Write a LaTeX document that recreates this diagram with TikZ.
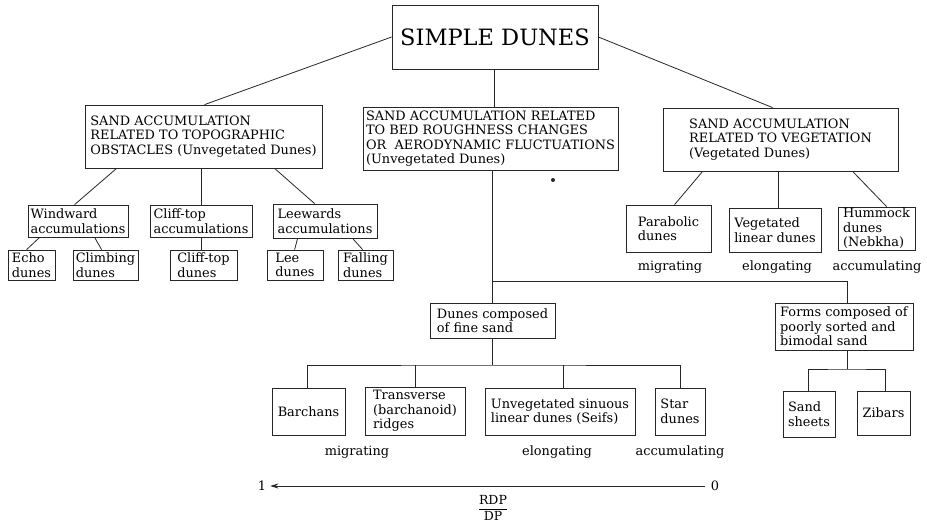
\documentclass[tikz,border=0pt]{standalone}
\usepackage{fontspec}
\setmainfont{DejaVu Serif}
\usetikzlibrary{calc,arrows.meta}
\begin{document}
\begin{tikzpicture}[x=1pt,y=-1pt,
  box/.style={draw=black!85, line width=0.8pt, align=left, inner xsep=2pt, inner ysep=0pt, font=\fontsize{12.9}{14.5}\selectfont},
  lbl/.style={inner sep=0pt, font=\fontsize{12.9}{14.5}\selectfont},
  conn/.style={draw=black!85, line width=0.8pt}]
\useasboundingbox (0,0) rectangle (927,526);
% top
\node[box, align=center, minimum width=206, minimum height=64, font=\fontsize{22.5}{26}\selectfont] (top) at (495,37) {SIMPLE DUNES};
% level 1
\node[box, minimum width=237, minimum height=63] (topo) at (203.5,136.5) {SAND ACCUMULATION\\RELATED TO TOPOGRAPHIC\\OBSTACLES (Unvegetated Dunes)};
\node[box, minimum width=255, minimum height=63] (bed) at (490.5,138.5) {SAND ACCUMULATION RELATED\\TO BED ROUGHNESS CHANGES\\OR~ AERODYNAMIC FLUCTUATIONS\\(Unvegetated Dunes)};
\node[box, minimum width=235, minimum height=63] (veg) at (780.5,139.5) {SAND ACCUMULATION\\RELATED TO VEGETATION\\(Vegetated Dunes)};
% left subtree
\node[box, minimum width=100, minimum height=32] (wind) at (78,221) {Windward\\accumulations};
\node[box, minimum width=102, minimum height=32] (cliffacc) at (201,221) {Cliff-top\\accumulations};
\node[box, minimum width=104, minimum height=34] (leew) at (325,221) {Leewards\\accumulations};
\node[box, minimum width=47, minimum height=30] (echo) at (31.5,265) {Echo\\dunes};
\node[box, minimum width=65, minimum height=30] (climb) at (105.5,265) {Climbing\\dunes};
\node[box, minimum width=67, minimum height=30] (cliffd) at (203.5,265) {Cliff-top\\dunes};
\node[box, minimum width=56, minimum height=30] (lee) at (295,265) {Lee\\dunes};
\node[box, minimum width=55, minimum height=30] (fall) at (365.5,265) {Falling\\dunes};
% right subtree
\node[box, minimum width=85, minimum height=47] (parab) at (668.5,228.5) {Parabolic\\dunes};
\node[box, minimum width=92, minimum height=44] (veglin) at (775,230) {Vegetated\\linear dunes};
\node[box, minimum width=77, minimum height=43] (humm) at (876.5,228.5) {Hummock\\dunes\\(Nebkha)};
\node[lbl] (m1) at (670,267) {migrating};
\node[lbl] (e1) at (777,267) {elongating};
\node[lbl] (a1) at (877,267) {accumulating};
% middle subtree
\node[box, minimum width=125, minimum height=35] (fine) at (492.5,320.5) {Dunes composed\\of fine sand};
\node[box, minimum width=138, minimum height=47] (forms) at (844,326.5) {Forms composed of\\poorly sorted and\\bimodal sand};
\node[box, minimum width=73, minimum height=47] (barch) at (308.5,411.5) {Barchans};
\node[box, minimum width=100, minimum height=48] (trans) at (415,411) {Transverse\\(barchanoid)\\ridges};
\node[box, minimum width=150, minimum height=47] (unveg) at (560,411.5) {Unvegetated sinuous\\linear dunes (Seifs)};
\node[box, minimum width=50, minimum height=47] (star) at (680,411.5) {Star\\dunes};
\node[box, minimum width=52, minimum height=46] (sheets) at (809,414) {Sand\\sheets};
\node[box, minimum width=53, minimum height=44] (zibars) at (883.5,413) {Zibars};
\node[lbl] (m2) at (357,452) {migrating};
\node[lbl] (e2) at (557,452) {elongating};
\node[lbl] (a2) at (680,452) {accumulating};
% axis
\node[lbl] (one) at (262,486) {1};
\node[lbl] (zero) at (715,486) {0};
\node[inner sep=0pt, font=\fontsize{12.5}{14}\selectfont] (ratio) at (493,508) {$\displaystyle\frac{\hbox{RDP}}{\hbox{DP}}$};
\draw[conn, -{Stealth[length=8pt,width=5pt]}] ([xshift=-6pt]zero.west) -- ([xshift=4pt]one.east);
% dot
\fill[black!85] (553,180) circle (2);
% connectors
\coordinate (j) at (493,281);
\coordinate (bus1) at (493,365);
\coordinate (bus2) at (847,369);
\draw[conn] (top.west) -- ([xshift=120pt]topo.north west);
\draw[conn] (top.east) -- ([xshift=110pt]veg.north west);
\draw[conn] ([xshift=-1pt]top.south) -- ([xshift=-1pt]top.south |- bed.north);
\draw[conn] (bed.south -| fine.north) -- (fine.north);
\draw[conn] (j) -| ([xshift=3pt]forms.north);
\draw[conn] ([xshift=32pt]topo.south west) -- ([xshift=47pt]wind.north west);
\draw[conn] (cliffacc.north |- topo.south) -- (cliffacc.north);
\draw[conn] ([xshift=190pt]topo.south west) -- ([xshift=42pt]leew.north west);
\draw[conn] ([xshift=12pt]wind.south west) -- ([xshift=19pt]echo.north west);
\draw[conn] ([xshift=67pt]wind.south west) -- ([xshift=29pt]climb.north west);
\draw[conn] (cliffacc.south) -- (cliffacc.south |- cliffd.north);
\draw[conn] ([xshift=25pt]leew.south west) -- ([xshift=28pt]lee.north west);
\draw[conn] ([xshift=80pt]leew.south west) -- ([xshift=25pt]fall.north west);
\draw[conn] ([xshift=40pt]veg.south west) -- ([xshift=49pt]parab.north west);
\draw[conn] ([xshift=3pt]veglin.north |- veg.south) -- ([xshift=3pt]veglin.north);
\draw[conn] ([xshift=190pt]veg.south west) -- ([xshift=49pt]humm.north west);
\draw[conn] (fine.south) -- (fine.south |- bus1);
\draw[conn] ([xshift=-1.5pt]barch.north) |- (bus1) -| (star.north);
\draw[conn] (trans.north) -- (trans.north |- bus1);
\draw[conn] ([xshift=3pt]unveg.north) -- ([xshift=3pt]unveg.north |- bus1);
\draw[conn] ([xshift=3pt]forms.south) -- (bus2);
\draw[conn] ([xshift=-1pt]sheets.north) |- (bus2) -| ([xshift=1.5pt]zibars.north);
\end{tikzpicture}
\end{document}
